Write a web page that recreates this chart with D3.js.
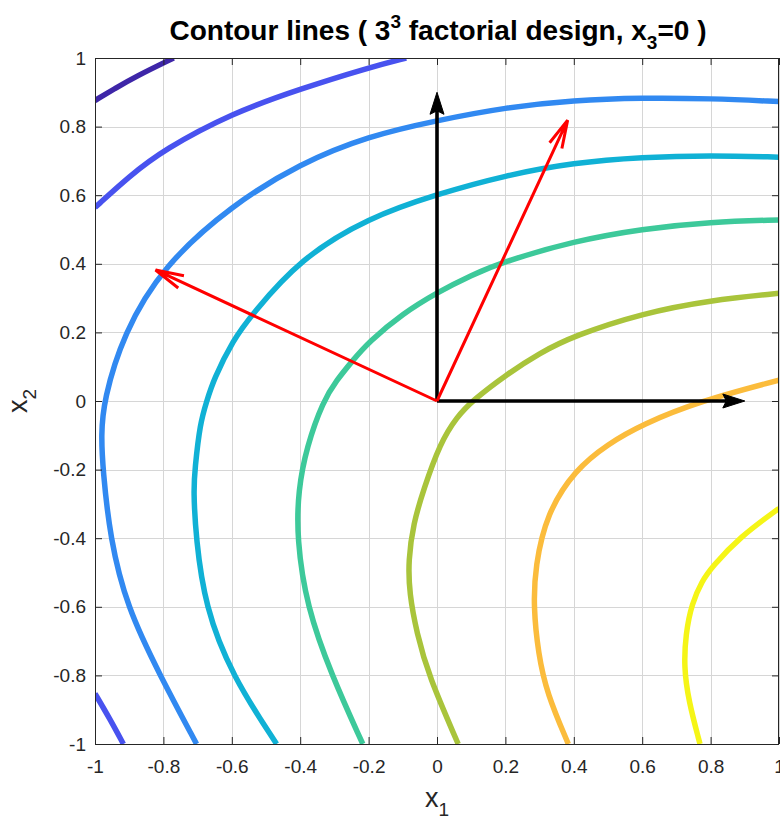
<!DOCTYPE html>
<html>
<head>
<meta charset="utf-8">
<script src="https://cdn.jsdelivr.net/npm/d3@7"></script>
<style>
  html, body { margin: 0; padding: 0; background: #fff; }
  svg { display: block; }
</style>
</head>
<body>
<svg id="chart" width="780" height="821"></svg>
<script>
// ---- data --------------------------------------------------------------
const tickValues = [-1, -0.8, -0.6, -0.4, -0.2, 0, 0.2, 0.4, 0.6, 0.8, 1];
const tickLabels = ["-1", "-0.8", "-0.6", "-0.4", "-0.2", "0", "0.2", "0.4", "0.6", "0.8", "1"];

// contour levels, lowest to highest (x1, x2) pairs
const contour1 = [[-1, 0.876], [-0.94, 0.912], [-0.883, 0.945], [-0.77, 1.0]];
const contour2Top = [[-1, 0.564], [-0.9, 0.655], [-0.8, 0.732], [-0.6, 0.839], [-0.4, 0.91], [-0.2, 0.972], [-0.09, 1.0]];
const contour2Bottom = [[-1, -0.853], [-0.957, -0.926], [-0.917, -1.0]];
const contour3 = [[-0.703, -1.0], [-0.81, -0.8], [-0.907, -0.6], [-0.956, -0.4], [-0.977, -0.2], [-0.982, -0.1],
  [-0.975, 0.0], [-0.917, 0.197], [-0.8, 0.395], [-0.6, 0.571], [-0.4, 0.693], [-0.2, 0.773], [0, 0.818],
  [0.2, 0.856], [0.4, 0.877], [0.6, 0.884], [0.8, 0.882], [1.0, 0.873]];
const contour4 = [[-0.469, -1.0], [-0.6, -0.8], [-0.678, -0.6], [-0.705, -0.4], [-0.712, -0.26], [-0.708, -0.2],
  [-0.693, -0.065], [-0.673, 0.0], [-0.654, 0.061], [-0.596, 0.178], [-0.542, 0.251], [-0.4, 0.415],
  [-0.2, 0.535], [0, 0.603], [0.2, 0.658], [0.4, 0.695], [0.6, 0.711], [0.8, 0.716], [1.0, 0.711]];
const contour5 = [[-0.217, -1.0], [-0.308, -0.8], [-0.381, -0.6], [-0.41, -0.4], [-0.406, -0.26], [-0.381, -0.133],
  [-0.333, 0.0], [-0.293, 0.061], [-0.249, 0.115], [-0.2, 0.172], [-0.1, 0.255], [0, 0.316],
  [0.1, 0.367], [0.2, 0.408], [0.4, 0.466], [0.6, 0.502], [0.8, 0.522], [1.0, 0.528]];
const contour6 = [[0.062, -1.0], [-0.025, -0.8], [-0.059, -0.677], [-0.081, -0.561], [-0.084, -0.464],
  [-0.069, -0.357], [-0.04, -0.26], [0.009, -0.123], [0.058, -0.046], [0.106, 0.003], [0.2, 0.075],
  [0.3, 0.14], [0.4, 0.19], [0.6, 0.256], [0.8, 0.294], [1.0, 0.314]];
const contour7 = [[0.384, -1.0], [0.321, -0.852], [0.296, -0.736], [0.282, -0.6], [0.287, -0.483],
  [0.321, -0.327], [0.404, -0.2], [0.5, -0.125], [0.6, -0.068], [0.769, 0.0], [1.0, 0.061]];
const contour8 = [[0.769, -1.0], [0.735, -0.872], [0.722, -0.775], [0.727, -0.68], [0.745, -0.59],
  [0.775, -0.525], [0.803, -0.485], [0.886, -0.396], [1.0, -0.313]];

// direction vectors drawn from the design centre: [x0, y0, x1, y1]
const axisVectors = [[0, 0, 0.9, 0], [0, 0, 0, 0.9]];
const eigenVectors = [[0, 0, 0.382, 0.819], [0, 0, -0.823, 0.382]];

// ---- styling -----------------------------------------------------------
const levelColors = ["#3e26a8", "#4852ef", "#3189f1", "#10b1d5", "#3dc99a", "#a9c43b", "#fbbc3c", "#f5f517"];
const contourSeries = [
  { pts: contour1, level: 0 },
  { pts: contour2Top, level: 1 },
  { pts: contour2Bottom, level: 1 },
  { pts: contour3, level: 2 },
  { pts: contour4, level: 3 },
  { pts: contour5, level: 4 },
  { pts: contour6, level: 5 },
  { pts: contour7, level: 6 },
  { pts: contour8, level: 7 }
];

const FONT = "'Liberation Sans', Arial, Helvetica, sans-serif";
const INK = "#262626";
const plot = { left: 95, right: 779, top: 58, bottom: 744 };

const svg = d3.select("#chart");
const x = d3.scaleLinear().domain([-1, 1]).range([plot.left, plot.right]);
const y = d3.scaleLinear().domain([-1, 1]).range([plot.bottom, plot.top]);

svg.append("defs").append("clipPath").attr("id", "plot-clip")
  .append("rect")
  .attr("x", plot.left).attr("y", plot.top)
  .attr("width", plot.right - plot.left).attr("height", plot.bottom - plot.top);

// grid
const grid = svg.append("g").attr("stroke", "#d6d6d6").attr("stroke-width", 1);
grid.selectAll("line.v").data(tickValues).join("line")
  .attr("class", "v")
  .attr("x1", d => Math.round(x(d)) + 0.5).attr("x2", d => Math.round(x(d)) + 0.5)
  .attr("y1", plot.top).attr("y2", plot.bottom);
grid.selectAll("line.h").data(tickValues).join("line")
  .attr("class", "h")
  .attr("y1", d => Math.round(y(d)) + 0.5).attr("y2", d => Math.round(y(d)) + 0.5)
  .attr("x1", plot.left).attr("x2", plot.right);

// contour lines (smoothed through the sampled points)
const line = d3.line()
  .x(d => x(d[0])).y(d => y(d[1]))
  .curve(d3.curveBasis);

svg.append("g").attr("clip-path", "url(#plot-clip)")
  .selectAll("path").data(contourSeries).join("path")
  .attr("d", d => line(d.pts))
  .attr("fill", "none")
  .attr("stroke", d => levelColors[d.level])
  .attr("stroke-width", 5.5)
  .attr("stroke-linecap", "butt")
  .attr("stroke-linejoin", "round");

// coordinate axes through the centre (black, filled heads)
const arrows = svg.append("g");
axisVectors.forEach(v => {
  const px0 = x(v[0]), py0 = y(v[1]), px1 = x(v[2]), py1 = y(v[3]);
  const a = Math.atan2(py1 - py0, px1 - px0);
  const bx = -Math.cos(a), by = -Math.sin(a);   // pointing back along the shaft
  const nx = -by, ny = bx;                       // perpendicular
  const L = 22, W = 7, N = 18.5;
  arrows.append("line")
    .attr("x1", px0).attr("y1", py0)
    .attr("x2", px1 + bx * N).attr("y2", py1 + by * N)
    .attr("stroke", "#000").attr("stroke-width", 3.6);
  arrows.append("path")
    .attr("d", `M${px1},${py1}L${px1 + bx * L + nx * W},${py1 + by * L + ny * W}` +
               `L${px1 + bx * N},${py1 + by * N}` +
               `L${px1 + bx * L - nx * W},${py1 + by * L - ny * W}Z`)
    .attr("fill", "#000").attr("stroke", "#000").attr("stroke-width", 1)
    .attr("stroke-linejoin", "miter");
});

// principal directions (red, open heads)
eigenVectors.forEach(v => {
  const px0 = x(v[0]), py0 = y(v[1]), px1 = x(v[2]), py1 = y(v[3]);
  const back = Math.atan2(py0 - py1, px0 - px1);
  const L = 29, th = 13.5 * Math.PI / 180;
  const b1 = [px1 + L * Math.cos(back + th), py1 + L * Math.sin(back + th)];
  const b2 = [px1 + L * Math.cos(back - th), py1 + L * Math.sin(back - th)];
  arrows.append("path")
    .attr("d", `M${px0},${py0}L${px1},${py1}M${b1[0]},${b1[1]}L${px1},${py1}L${b2[0]},${b2[1]}`)
    .attr("fill", "none").attr("stroke", "#ff0000").attr("stroke-width", 3)
    .attr("stroke-linejoin", "miter").attr("stroke-linecap", "butt");
});

// axes (box with inward ticks on all sides)
const fmt = (d, i) => tickLabels[i];
function styleAxis(g) {
  g.select(".domain").remove();
  g.selectAll(".tick line").attr("stroke", INK).attr("stroke-width", 1);
  g.selectAll(".tick text").attr("fill", INK).style("font-family", FONT).style("font-size", "19px");
}
svg.append("g").attr("transform", `translate(0,${plot.bottom})`)
  .call(d3.axisBottom(x).tickValues(tickValues).tickFormat(fmt).tickSize(-7).tickPadding(16))
  .call(styleAxis);
svg.append("g").attr("transform", `translate(${plot.left},0)`)
  .call(d3.axisLeft(y).tickValues(tickValues).tickFormat(fmt).tickSize(-7).tickPadding(9))
  .call(styleAxis);
svg.append("g").attr("transform", `translate(0,${plot.top})`)
  .call(d3.axisTop(x).tickValues(tickValues).tickFormat("").tickSize(-7))
  .call(styleAxis);
svg.append("g").attr("transform", `translate(${plot.right},0)`)
  .call(d3.axisRight(y).tickValues(tickValues).tickFormat("").tickSize(-7))
  .call(styleAxis);

svg.append("rect")
  .attr("x", plot.left + 0.5).attr("y", plot.top + 0.5)
  .attr("width", plot.right - plot.left - 1).attr("height", plot.bottom - plot.top)
  .attr("fill", "none").attr("stroke", INK).attr("stroke-width", 1);

// axis labels
const xl = svg.append("text")
  .attr("x", (plot.left + plot.right) / 2).attr("y", 807)
  .attr("text-anchor", "middle").attr("fill", INK)
  .style("font-family", FONT).style("font-size", "27px");
xl.append("tspan").text("x");
xl.append("tspan").attr("dy", 9).style("font-size", "19px").text("1");

const yl = svg.append("text")
  .attr("transform", `translate(27,${(plot.top + plot.bottom) / 2}) rotate(-90)`)
  .attr("text-anchor", "middle").attr("fill", INK)
  .style("font-family", FONT).style("font-size", "27px");
yl.append("tspan").text("x");
yl.append("tspan").attr("dy", 9).style("font-size", "19px").text("2");

// title
const title = svg.append("text")
  .attr("x", 438).attr("y", 40)
  .attr("text-anchor", "middle").attr("fill", "#000")
  .style("font-family", FONT).style("font-size", "28px").style("font-weight", "bold");
title.append("tspan").text("Contour lines ( 3");
title.append("tspan").attr("dy", -12).style("font-size", "19px").text("3");
title.append("tspan").attr("dy", 12).text(" factorial design, x");
title.append("tspan").attr("dy", 9).style("font-size", "19px").text("3");
title.append("tspan").attr("dy", -9).text("=0 )");
</script>
</body>
</html>
